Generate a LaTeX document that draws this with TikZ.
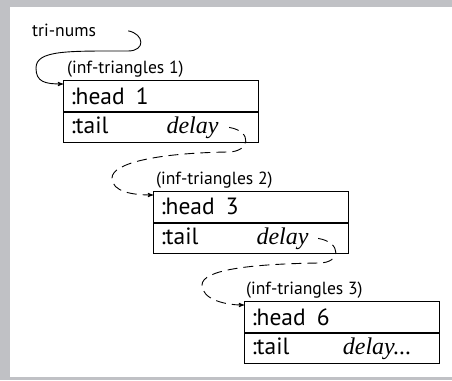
\documentclass[tikz,border=0pt]{standalone}
\usepackage{fontspec}
\setmainfont{PT Sans}
\newfontfamily\timesfont{Liberation Serif}
\usetikzlibrary{arrows}
\usetikzlibrary{calc}
\usetikzlibrary{positioning}
\definecolor{framegray}{RGB}{192,193,197}

\begin{document}
\begin{tikzpicture}[x=1pt, y=1pt, >=stealth', shorten >=0pt,
    cell/.style={draw, line width=1.1pt, anchor=north west,
      minimum width=195pt, minimum height=30.5pt, text width=181pt,
      inner xsep=7pt, inner ysep=0pt, align=left,
      font=\fontsize{23.5}{27}\selectfont},
    tag/.style={inner sep=0pt, anchor=base west,
      font=\fontsize{17.6}{20}\selectfont},
    link/.style={->, line width=0.9pt},
    later/.style={link, dash pattern=on 10pt off 6pt}]
      % frame
      \useasboundingbox (0,0) rectangle (452,-380);
      \fill[framegray] (0,0) rectangle (452,-7);
      \fill[framegray] (0,0) rectangle (10,-380);
      \fill[framegray] (0,-377) rectangle (452,-380);

      \node[tag] (trinums) at (32,-36) {tri-nums};

      \node[cell] (head1) at (63,-80) {:head\hspace{11pt}1};
      \node[cell, below=0pt of head1] (tail1)
           {:tail\hfill{\timesfont\itshape\fontsize{24}{27}\selectfont delay}\hspace{33pt}\mbox{}};
      \node[tag] (name1) at ([xshift=4pt, yshift=7pt]head1.north west)
           {(inf-triangles 1)};

      \node[cell] (head2) at ([xshift=90pt, yshift=-111pt]head1.north west)
           {:head\hspace{11pt}3};
      \node[cell, below=0pt of head2] (tail2)
           {:tail\hfill{\timesfont\itshape\fontsize{24}{27}\selectfont delay}\hspace{33pt}\mbox{}};
      \node[tag] (name2) at ([xshift=3pt, yshift=7pt]head2.north west)
           {(inf-triangles 2)};

      \node[cell] (head3) at ([xshift=91pt, yshift=-110pt]head2.north west)
           {:head\hspace{11pt}6};
      \node[cell, below=0pt of head3] (tail3)
           {:tail\hfill{\timesfont\itshape\fontsize{24}{27}\selectfont delay...}\hspace{21pt}\mbox{}};
      \node[tag] (name3) at ([xshift=2pt, yshift=7pt]head3.north west)
           {(inf-triangles 3)};

      \coordinate (turn0) at (128,-51);
      \coordinate (swing0) at (36,-68);
      \coordinate (turn1) at (228,-152);
      \coordinate (swing1) at (112,-178);
      \coordinate (turn2) at (319,-263);
      \coordinate (swing2) at (202,-285);

      \draw[link] ([xshift=32pt, yshift=-1pt]trinums.east)
           .. controls +(16,-3) and +(18,0) .. (turn0)
           .. controls +(-60,0) and +(0,18) .. (swing0)
           .. controls +(0,-14) and +(-18,0) .. ([yshift=-4pt]head1.north west);
      \draw[later] ([xshift=-30pt]tail1.east)
           .. controls +(24,-4) and +(22,0) .. (turn1)
           .. controls +(-70,-1) and +(0,15) .. (swing1)
           .. controls +(0,-14) and +(-20,0) .. ([yshift=-4pt]head2.north west);
      \draw[later] ([xshift=-31pt]tail2.east)
           .. controls +(24,-4) and +(22,0) .. (turn2)
           .. controls +(-70,-1) and +(0,15) .. (swing2)
           .. controls +(0,-14) and +(-20,0) .. ([yshift=-4pt]head3.north west);
    \end{tikzpicture}
\end{document}
